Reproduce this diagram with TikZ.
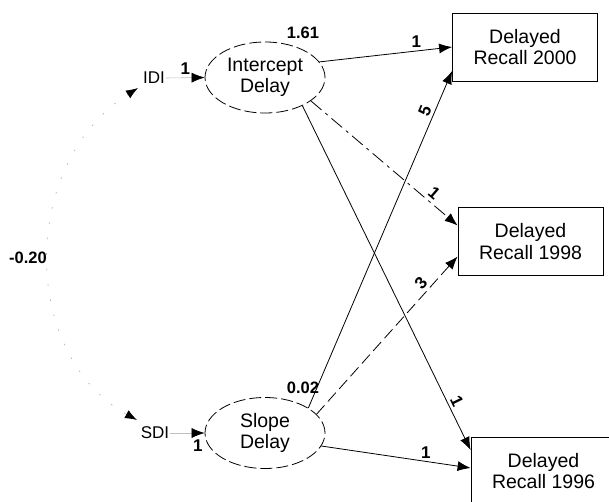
\documentclass[tikz,border=0pt]{standalone}
\usepackage{fontspec}
\setmainfont{Liberation Sans}
\usetikzlibrary{arrows.meta,shapes.geometric}
\begin{document}
\begin{tikzpicture}[x=1pt,y=-1pt,
  latent/.style={draw, ellipse, dash pattern=on 12pt off 4pt, line width=0.8pt,
    minimum width=120pt, minimum height=71pt, inner sep=0pt, align=center,
    font=\fontsize{19.5}{21.5}\selectfont},
  observed/.style={draw, rectangle, line width=0.8pt, minimum width=145pt,
    minimum height=68pt, align=center, font=\fontsize{19.5}{21.5}\selectfont},
  resid/.style={font=\fontsize{17}{19}\selectfont, inner sep=1pt},
  tip/.style={-{Latex[length=13pt,width=10pt,black]}},
  regpath/.style={line width=0.8pt, tip},
  weight/.style={font=\bfseries\fontsize{17}{19}\selectfont, inner sep=3pt},
  estim/.style={font=\bfseries\fontsize{16.5}{18}\selectfont, inner sep=0pt},
  faint/.style={draw=black!25, line width=0.6pt},
]
\useasboundingbox (0,0) rectangle (609,502);
\clip (0,0) rectangle (609,502);

% latent growth factors
\node[latent] (int) at (265,77.5) {Intercept\\Delay};
\node[latent] (slo) at (265,433) {Slope\\Delay};

% observed measures
\node[observed] (b2000) at (525,47)    {Delayed\\Recall 2000};
\node[observed] (b1998) at (530.5,241.5) {Delayed\\Recall 1998};
\node[observed] (b1996) at (543.5,471) {Delayed\\Recall 1996};

% disturbances
\node[resid] (idi) at (154,78)  {IDI};
\node[resid] (sdi) at (155,433) {SDI};

% variance estimates
\node[estim] (vint) at (303,33)  {1.61};
\node[estim] (vslo) at (303,388) {0.02};

% disturbance paths
\draw[faint, tip] (idi.east) -- (int.west)
  node[weight, pos=0.5, above] (widi) {1};
\draw[faint, tip] (sdi.east) -- (slo.west)
  node[weight, pos=0.8, below=3pt] (wsdi) {1};

% covariance between disturbances
\coordinate (ca) at (138,88);
\coordinate (cb) at (137,420);
\draw[draw=black!30, line width=0.7pt, dash pattern=on 1.5pt off 14pt,
  {Latex[length=12pt,width=9pt,black]}-{Latex[length=12pt,width=9pt,black]}]
  (ca) .. controls (19.5,163) and (19.5,355) .. (cb);
\node[estim] (cov) at (28,258) {-0.20};

% loadings from the intercept
\draw[regpath] (int.16) -- (b2000.west)
  node[weight, pos=0.73, above] (w1) {1};
\draw[regpath, dash pattern=on 14pt off 5pt on 3pt off 5pt]
  (int.-27) -- ([yshift=16pt]b1998.west)
  node[weight, pos=0.8, above, sloped] (w2) {1};
\draw[regpath] (int.-37) -- ([yshift=21pt]b1996.west)
  node[weight, pos=0.87, above, sloped] (w3) {1};

% loadings from the slope
\draw[regpath] (slo.30) -- ([yshift=-24pt]b2000.west)
  node[weight, pos=0.87, above, sloped] (w4) {5};
\draw[regpath, dash pattern=on 12pt off 5pt]
  (slo.20) -- ([yshift=-15pt]b1998.west)
  node[weight, pos=0.79, above, sloped] (w5) {3};
\draw[regpath] (slo.-13) -- ([yshift=3pt]b1996.west)
  node[weight, pos=0.7, above] (w6) {1};
\end{tikzpicture}
\end{document}
